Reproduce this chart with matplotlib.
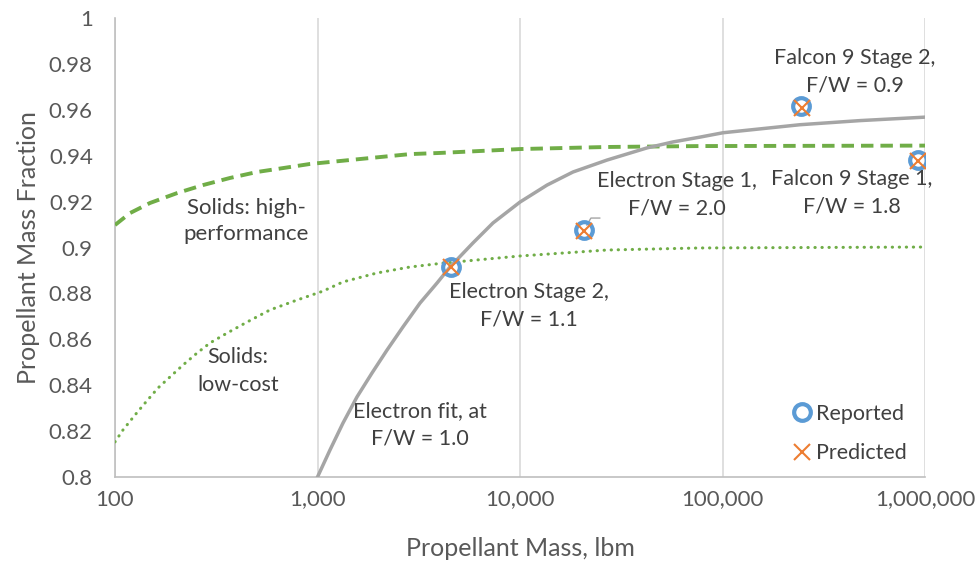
import matplotlib
matplotlib.use("Agg")
import matplotlib.pyplot as plt
from matplotlib.ticker import FixedLocator, FuncFormatter, NullLocator

plt.rcParams['font.family'] = ['Lato', 'DejaVu Sans']

# ---- data ----
hp_mass = [100, 118.6, 148.9, 202.4, 272, 369.8, 502.6, 675.3, 918.4, 2862, 4026, 10000, 26900, 77430, 1000000]
hp_frac = [0.9098, 0.9150, 0.9194, 0.9237, 0.9272, 0.9303, 0.9329, 0.9346, 0.9364, 0.9407, 0.9412, 0.9429, 0.9438, 0.9442, 0.9444]

lc_mass = [100, 109.5, 125.5, 140.6, 163.1, 191.2, 216.7, 254.1, 294.5, 357.4, 448.6, 582.8, 792.2, 1065,
           1336, 1967, 2862, 4168, 10000, 26900, 77430, 1000000]
lc_frac = [0.8153, 0.8205, 0.8270, 0.8322, 0.8388, 0.8444, 0.8488, 0.8540, 0.8584, 0.8627, 0.8675, 0.8728, 0.8771, 0.8810,
           0.8850, 0.8889, 0.8915, 0.8932, 0.8963, 0.8989, 0.8998, 0.9002]

fit_mass = [1000, 1153, 1336, 1567, 1858, 2204, 2643, 3208, 3891, 4510, 5860, 7357, 10000, 13600, 18270,
            26900, 42400, 56970, 77430, 100600, 241400, 478600, 1000000]
fit_frac = [0.8, 0.8118, 0.8235, 0.8349, 0.8453, 0.8553, 0.8654, 0.8758, 0.8845, 0.8915, 0.9020, 0.9107, 0.9198, 0.9272, 0.9329,
            0.9381, 0.9434, 0.9460, 0.9481, 0.9500, 0.9535, 0.9553, 0.9568]

pt_names = ["Electron Stage 2,\nF/W = 1.1", "Electron Stage 1,\nF/W = 2.0",
            "Falcon 9 Stage 2,\nF/W = 0.9", "Falcon 9 Stage 1,\nF/W = 1.8"]
rep_mass = [4560, 20700, 244000, 922000]
rep_frac = [0.8915, 0.9076, 0.9617, 0.9381]
pred_mass = [4560, 20700, 248000, 925000]
pred_frac = [0.8913, 0.9074, 0.9610, 0.9375]

x_ticks = [100, 1000, 10000, 100000, 1000000]
y_ticks = [0.8, 0.82, 0.84, 0.86, 0.88, 0.9, 0.92, 0.94, 0.96, 0.98, 1.0]

# ---- figure ----
fig = plt.figure(figsize=(9.8, 5.7), dpi=100)
ax = fig.add_axes([115/980, 93/570, 810/980, 459/570])

green = '#70AD47'
grey = '#A5A5A5'
blue = '#5B9BD5'
orange = '#ED7D31'
txt = '#404040'
tick = '#595959'

ax.plot(hp_mass, hp_frac, color=green, lw=2.8, ls=(0, (3.2, 1.8)), zorder=3)
ax.plot(lc_mass, lc_frac, color=green, lw=2.2, ls=(0, (0.1, 2.2)), dash_capstyle='round', zorder=3)
ax.plot(fit_mass, fit_frac, color=grey, lw=2.5, zorder=3, solid_joinstyle='round')

ax.plot(rep_mass, rep_frac, ls='none', marker='o', ms=12, mfc='none', mec=blue, mew=3, zorder=4, label='Reported')
ax.plot(pred_mass, pred_frac, ls='none', marker='x', ms=11, mec=orange, mew=1.5, zorder=5, label='Predicted')

ax.set_xscale('log')
ax.set_xlim(100, 1000000)
ax.set_ylim(0.8, 1.0)
ax.xaxis.set_major_locator(FixedLocator(x_ticks))
ax.xaxis.set_minor_locator(NullLocator())
ax.xaxis.set_major_formatter(FuncFormatter(lambda v, p: f"{int(round(v)):,}"))
ax.yaxis.set_major_locator(FixedLocator(y_ticks))
ax.yaxis.set_major_formatter(FuncFormatter(lambda v, p: f"{v:g}"))
ax.tick_params(length=0, labelsize=16, colors=tick)
ax.tick_params(axis='y', pad=16)
ax.tick_params(axis='x', pad=9)
ax.grid(axis='x', color='#D9D9D9', lw=1.2)
ax.set_axisbelow(True)
for s in ['top', 'right']:
    ax.spines[s].set_visible(False)
for s in ['left', 'bottom']:
    ax.spines[s].set_color('#BFBFBF')
    ax.spines[s].set_linewidth(1.2)

ax.set_xlabel('Propellant Mass, lbm', fontsize=18, color=tick, labelpad=20)
ax.set_ylabel('Propellant Mass Fraction', fontsize=18, color=tick, labelpad=6)

# point labels
fs = 15.5
ls_ = 1.45
offsets = [(78, -39), (93, 35), (54, 34), (-66, -33)]
for name, m, f, off in zip(pt_names, rep_mass, rep_frac, offsets):
    ax.annotate(name, xy=(m, f), xytext=off, textcoords='offset pixels',
                ha='center', va='center', fontsize=fs, color=txt, linespacing=ls_, zorder=6)
# leader line for Electron Stage 1
ax.annotate('', xy=(rep_mass[1], rep_frac[1]), xytext=(16, 12), textcoords='offset pixels',
            arrowprops=dict(arrowstyle='-', color=grey, lw=1, shrinkA=0, shrinkB=4,
                            connectionstyle='angle,angleA=0,angleB=60,rad=0'))

ax.text(0.3765, 0.113, "Electron fit, at\nF/W = 1.0", transform=ax.transAxes, ha='center', va='center',
        fontsize=fs, color=txt, linespacing=ls_)
ax.text(0.162, 0.558, "Solids: high-\nperformance", transform=ax.transAxes, ha='center', va='center',
        fontsize=16, color=txt, linespacing=1.4)
ax.text(0.152, 0.231, "Solids:\nlow-cost", transform=ax.transAxes, ha='center', va='center',
        fontsize=fs, color=txt, linespacing=ls_)

leg = ax.legend(loc='lower right', bbox_to_anchor=(0.977, 0.03), frameon=False, fontsize=fs,
                labelcolor=txt, handletextpad=0.15, handlelength=1.0, labelspacing=0.9,
                borderaxespad=0, borderpad=0)

fig.savefig('out.png', dpi=100, facecolor='white')
